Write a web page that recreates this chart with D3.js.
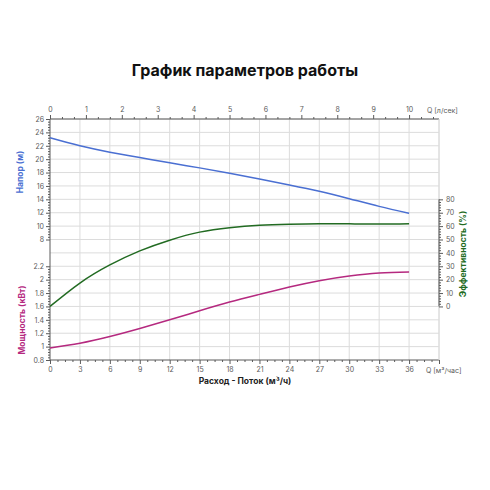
<!DOCTYPE html>
<html>
<head>
<meta charset="utf-8">
<script src="https://cdn.jsdelivr.net/npm/d3@7"></script>
<style>
  body { margin: 0; background: #fff; }
  svg text { font-family: Inter, "Noto Sans", sans-serif; }
</style>
</head>
<body>
<div id="chart"></div>
<script>
// значения
var flowM3h = [0, 3, 6, 9, 12, 15, 18, 21, 24, 27, 30, 33, 36];
var headM = [23.2, 22.0, 21.05, 20.25, 19.45, 18.7, 17.9, 17.05, 16.15, 15.2, 14.1, 12.95, 11.9];
var powerKW = [0.98, 1.05, 1.15, 1.27, 1.4, 1.535, 1.665, 1.78, 1.89, 1.985, 2.055, 2.1, 2.115];
var efficiencyPct = [0, 17.5, 31, 41.5, 49.5, 55.5, 58.8, 60.6, 61.4, 61.8, 61.7, 61.5, 61.8];

var flowTicks = [0, 3, 6, 9, 12, 15, 18, 21, 24, 27, 30, 33, 36];
var flowLsTicks = [0, 1, 2, 3, 4, 5, 6, 7, 8, 9, 10];
var headTicks = [8, 10, 12, 14, 16, 18, 20, 22, 24, 26];
var powerTicks = [0.8, 1, 1.2, 1.4, 1.6, 1.8, 2, 2.2];
var effTicks = [0, 10, 20, 30, 40, 50, 60, 70, 80];

var W = 490, H = 490;
var pLeft = 50, pRight = 439, pTop = 119, pBottom = 360;
var gray = "#5a5a5a", gridCol = "#dcdcdc";
var blue = "#4a6fd2", green = "#226b22", magenta = "#b5297f";

var svg = d3.select("#chart").append("svg").attr("width", W).attr("height", H);

var x = d3.scaleLinear().domain([0, 39]).range([pLeft, pRight]);
var xLs = d3.scaleLinear().domain([0, 39 / 3.6]).range([pLeft, pRight]);
var yHead = d3.scaleLinear().domain([-10, 26]).range([pBottom, pTop]);
var yPower = d3.scaleLinear().domain([0.8, 4.4]).range([pBottom, pTop]);
var yEff = d3.scaleLinear().domain([-40, 140]).range([pBottom, pTop]);

// сетка
var grid = svg.append("g");
grid.selectAll("line.v").data(d3.range(3, 40, 3)).enter().append("line")
  .attr("x1", function(d) { return x(d); }).attr("x2", function(d) { return x(d); })
  .attr("y1", pTop).attr("y2", pBottom).attr("stroke", gridCol);
grid.selectAll("line.h").data(d3.range(-8, 27, 2)).enter().append("line")
  .attr("x1", pLeft).attr("x2", pRight)
  .attr("y1", function(d) { return yHead(d); }).attr("y2", function(d) { return yHead(d); })
  .attr("stroke", gridCol);

function styleAxis(g) {
  g.select(".domain").remove();
  g.selectAll("line").attr("stroke", gray);
  g.selectAll("text").attr("fill", gray).style("font-size", "7px");
}

function minors(lo, hi, step, skip) {
  var out = [];
  for (var v = lo; v <= hi + 1e-9; v += step) {
    var r = Math.round(v * 1000) / 1000;
    if (skip.indexOf(r) < 0) out.push(r);
  }
  return out;
}

// нижняя ось
svg.append("line").attr("x1", pLeft).attr("x2", pRight).attr("y1", pBottom).attr("y2", pBottom).attr("stroke", gray);
svg.append("g").attr("transform", "translate(0," + pBottom + ")")
  .call(d3.axisBottom(x).tickValues(flowTicks.concat([39])).tickSize(4).tickPadding(3)
    .tickFormat(function(d) { return d === 39 ? "" : d; }))
  .call(styleAxis);
svg.append("g").attr("transform", "translate(0," + pBottom + ")")
  .call(d3.axisBottom(x).tickValues(minors(0, 39, 0.75, flowTicks.concat([39]))).tickSize(2).tickFormat(""))
  .call(styleAxis);

// верхняя ось
svg.append("line").attr("x1", pLeft).attr("x2", pRight).attr("y1", pTop).attr("y2", pTop).attr("stroke", gray);
svg.append("g").attr("transform", "translate(0," + pTop + ")")
  .call(d3.axisTop(xLs).tickValues(flowLsTicks).tickSize(4).tickPadding(3))
  .call(styleAxis);
svg.append("g").attr("transform", "translate(0," + pTop + ")")
  .call(d3.axisTop(xLs).tickValues(d3.range(1, 33).map(function(i) { return i / 3; })
    .filter(function(v) { return Math.abs(v - Math.round(v)) > 0.01; })).tickSize(2).tickFormat(""))
  .call(styleAxis);

// левая ось
svg.append("line").attr("x1", pLeft).attr("x2", pLeft).attr("y1", pTop).attr("y2", pBottom).attr("stroke", gray);
svg.append("g").attr("transform", "translate(" + pLeft + ",0)")
  .call(d3.axisLeft(yHead).tickValues(headTicks).tickSize(4).tickPadding(2))
  .call(styleAxis);
svg.append("g").attr("transform", "translate(" + pLeft + ",0)")
  .call(d3.axisLeft(yHead).tickValues(minors(8, 26, 0.4, headTicks)).tickSize(2).tickFormat(""))
  .call(styleAxis);
svg.append("g").attr("transform", "translate(" + pLeft + ",0)")
  .call(d3.axisLeft(yPower).tickValues(powerTicks).tickSize(4).tickPadding(2).tickFormat(d3.format("~g")))
  .call(styleAxis);
svg.append("g").attr("transform", "translate(" + pLeft + ",0)")
  .call(d3.axisLeft(yPower).tickValues(minors(0.8, 2.2, 0.04, powerTicks)).tickSize(2).tickFormat(""))
  .call(styleAxis);

// правая ось
svg.append("line").attr("x1", pRight).attr("x2", pRight).attr("y1", pTop).attr("y2", pBottom).attr("stroke", gridCol);
svg.append("line").attr("x1", pRight).attr("x2", pRight).attr("y1", yEff(80)).attr("y2", yEff(0)).attr("stroke", gray);
svg.append("g").attr("transform", "translate(" + pRight + ",0)")
  .call(d3.axisRight(yEff).tickValues(effTicks).tickSize(4).tickPadding(3))
  .call(styleAxis);
svg.append("g").attr("transform", "translate(" + pRight + ",0)")
  .call(d3.axisRight(yEff).tickValues(minors(0, 80, 2, effTicks)).tickSize(2).tickFormat(""))
  .call(styleAxis);

// кривые
function drawCurve(values, yScale, color) {
  svg.append("path")
    .datum(flowM3h.map(function(q, i) { return [q, values[i]]; }))
    .attr("fill", "none").attr("stroke", color).attr("stroke-width", 1.5)
    .attr("d", d3.line().curve(d3.curveNatural)
      .x(function(d) { return x(d[0]); })
      .y(function(d) { return yScale(d[1]); }));
}
drawCurve(headM, yHead, blue);
drawCurve(efficiencyPct, yEff, green);
drawCurve(powerKW, yPower, magenta);

// подписи
svg.append("text").attr("x", 245).attr("y", 76).attr("text-anchor", "middle")
  .style("font-size", "16px").style("font-weight", 700).attr("fill", "#111")
  .text("График параметров работы");
svg.append("text").attr("x", 245).attr("y", 384).attr("text-anchor", "middle")
  .style("font-size", "8.5px").style("font-weight", 700).attr("fill", "#222")
  .text("Расход - Поток (м³/ч)");
svg.append("text").attr("x", 427).attr("y", 113)
  .style("font-size", "7px").attr("fill", gray).text("Q [л/сек]");
svg.append("text").attr("x", 426).attr("y", 373)
  .style("font-size", "7px").attr("fill", gray).text("Q [м³/час]");

function vLabel(txt, cx, cy, color, rot) {
  svg.append("text").attr("transform", "translate(" + cx + "," + cy + ") rotate(" + rot + ")")
    .attr("text-anchor", "middle").attr("dy", "0.35em")
    .style("font-size", "8.5px").style("font-weight", 700).attr("fill", color).text(txt);
}
vLabel("Напор (м)", 20, 172, blue, -90);
vLabel("Мощность (кВт)", 22, 320, magenta, -90);
vLabel("Эффективность (%)", 463, 254, green, -90);
</script>
</body>
</html>
